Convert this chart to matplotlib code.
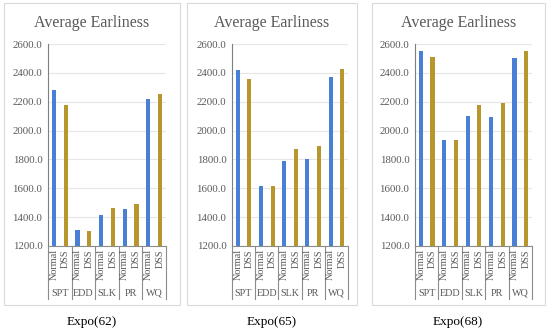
import numpy as np
import matplotlib
matplotlib.use('Agg')
from matplotlib import pyplot as plt
from matplotlib.patches import Rectangle

groups = ['SPT', 'EDD', 'SLK', 'PR', 'WQ']
series = ['Normal', 'DSS']
captions = ['Expo(62)', 'Expo(65)', 'Expo(68)']
normal_vals = [
    [2278, 1309, 1414, 1456, 2218],
    [2419, 1619, 1791, 1805, 2370],
    [2551, 1938, 2101, 2094, 2506],
]
dss_vals = [
    [2178, 1305, 1465, 1493, 2256],
    [2356, 1614, 1872, 1895, 2430],
    [2508, 1938, 2174, 2188, 2553],
]
yticks = [1200, 1400, 1600, 1800, 2000, 2200, 2400, 2600]

W, H = 550, 333
fig = plt.figure(figsize=(5.5, 3.33), dpi=100)
fig.patch.set_facecolor('white')

serif = ['Liberation Serif', 'DejaVu Serif']
txt = '#595959'
blue, gold = '#4a7fd6', '#b8962e'

# pixel layout of each panel: box (x0, x1), axes (x0, x1), caption x
boxes = [(4, 180), (187, 357), (372, 545)]
axes_x = [(48, 166), (232, 348), (415, 532)]
cap_x = [92, 272, 458]
ax_top, ax_bot = 44, 246

for i in range(3):
    bx0, bx1 = boxes[i]
    fig.add_artist(Rectangle((bx0 / W, 1 - 305 / H), (bx1 - bx0) / W, 302 / H,
                             transform=fig.transFigure, fill=False,
                             edgecolor='#d9d9d9', lw=0.8))
    fig.text((bx0 + bx1) / 2 / W, 1 - 23 / H, 'Average Earliness', ha='center',
             va='center', fontsize=11.5, color=txt, family=serif)
    x0, x1 = axes_x[i]
    ax = fig.add_axes([x0 / W, 1 - ax_bot / H, (x1 - x0) / W, (ax_bot - ax_top) / H])
    pos = np.arange(10)
    vals = []
    for g in range(5):
        vals += [normal_vals[i][g], dss_vals[i][g]]
    cols = [blue, gold] * 5
    ax.bar(pos, np.array(vals) - 1200, bottom=1200, width=0.36, color=cols, zorder=3)
    ax.set_xlim(-0.5, 9.5)
    ax.set_ylim(1200, 2600)
    ax.set_yticks(yticks)
    ax.set_yticklabels(['%.1f' % v for v in yticks], fontsize=7.8, color=txt, family=serif)
    ax.tick_params(axis='y', length=0, pad=4)
    ax.set_xticks([])
    ax.grid(axis='y', color='#e6e6e6', lw=0.8, zorder=0)
    for s in ['top', 'right']:
        ax.spines[s].set_visible(False)
    ax.spines['left'].set_color('#7f7f7f')
    ax.spines['bottom'].set_color('#8c8c8c')

    # two-level category axis
    trans = ax.get_xaxis_transform()
    for k in range(10):
        ax.text(pos[k], -0.015, series[k % 2], transform=trans, rotation=90,
                ha='center', va='top', fontsize=7.3, color=txt, family=serif)
    for g in range(5):
        ax.text(2 * g + 0.5, -0.235, groups[g], transform=trans,
                ha='center', va='center', fontsize=7.3, color=txt, family=serif)
    for b in np.arange(-0.5, 10, 2):
        ax.plot([b, b], [0, -0.26], transform=trans, color='#8c8c8c', lw=0.8,
                clip_on=False)

    fig.text(cap_x[i] / W, 1 - 322 / H, captions[i], ha='center', va='center',
             fontsize=9.5, color='black', family=serif)

fig.savefig('out.png', dpi=100)
